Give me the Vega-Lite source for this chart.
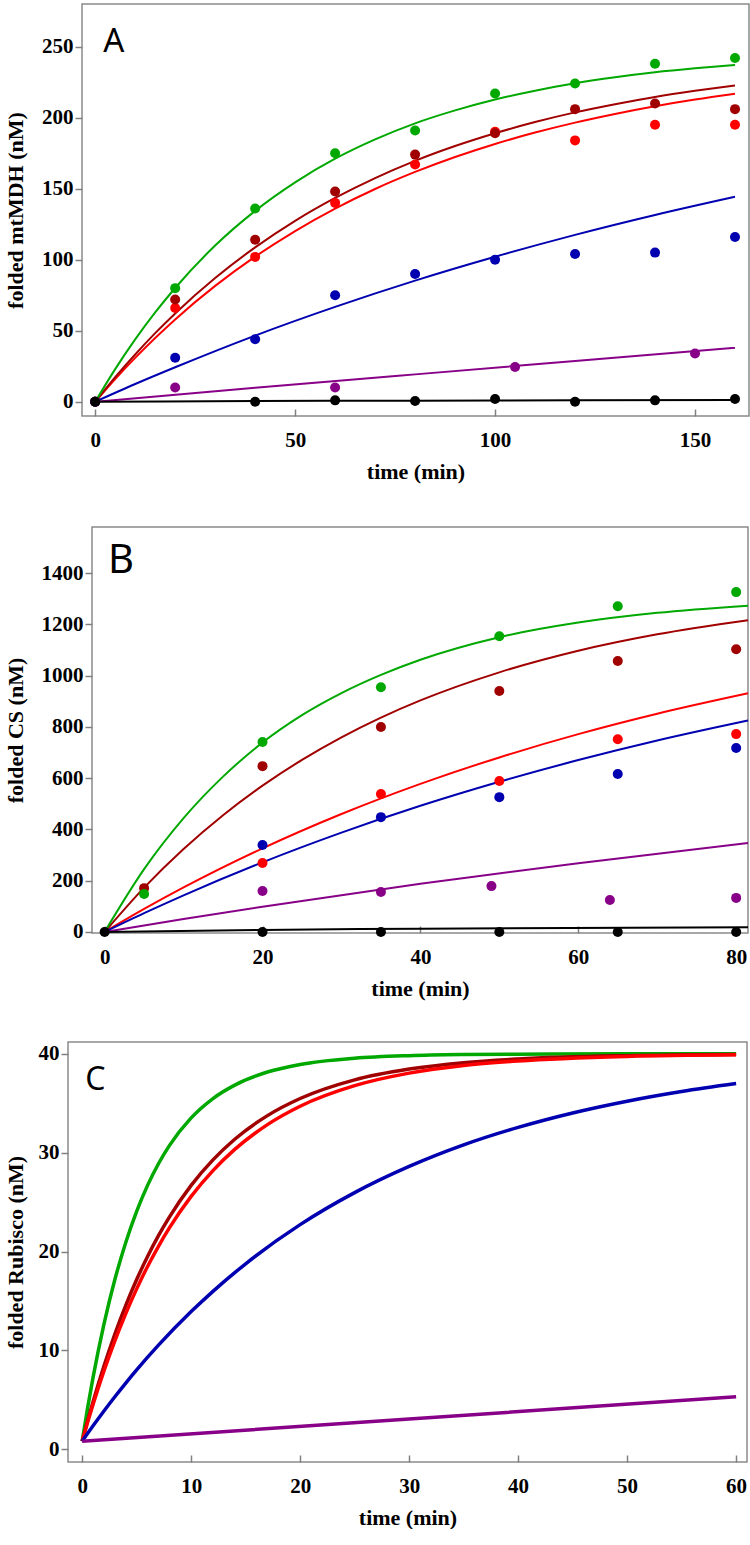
{
  "$schema": "https://vega.github.io/schema/vega-lite/v6.json",
  "background": "white",
  "padding": {"left": 2, "top": 3, "right": 2, "bottom": 0},
  "spacing": 43,
  "config": {
    "view": {"stroke": "#8a8a8a", "strokeWidth": 1.5},
    "axis": {
      "grid": false, "domain": false, "labelFlush": false, "labelOverlap": false,
      "labelFont": "Liberation Serif", "labelFontSize": 21, "labelFontWeight": "bold", "labelColor": "#000000",
      "titleFont": "Liberation Serif", "titleFontSize": 22, "titleFontWeight": "bold", "titleColor": "#000000",
      "tickColor": "#808080", "tickWidth": 1.5
    },
    "axisX": {"tickSize": -7, "labelPadding": 20, "titlePadding": 11},
    "axisY": {"tickSize": 7, "labelPadding": 2, "titlePadding": 14}
  },
  "datasets": {
    "none": [],
    "ptsA": [
      {"s":"s3","t":0,"v":0},{"s":"s3","t":20,"v":66},{"s":"s3","t":40,"v":102},{"s":"s3","t":60,"v":140},{"s":"s3","t":80,"v":167},{"s":"s3","t":100,"v":190},{"s":"s3","t":120,"v":184},{"s":"s3","t":140,"v":195},{"s":"s3","t":160,"v":195},
      {"s":"s2","t":0,"v":0},{"s":"s2","t":20,"v":72},{"s":"s2","t":40,"v":114},{"s":"s2","t":60,"v":148},{"s":"s2","t":80,"v":174},{"s":"s2","t":100,"v":189},{"s":"s2","t":120,"v":206},{"s":"s2","t":140,"v":210},{"s":"s2","t":160,"v":206},
      {"s":"s1","t":0,"v":0},{"s":"s1","t":20,"v":80},{"s":"s1","t":40,"v":136},{"s":"s1","t":60,"v":175},{"s":"s1","t":80,"v":191},{"s":"s1","t":100,"v":217},{"s":"s1","t":120,"v":224},{"s":"s1","t":140,"v":238},{"s":"s1","t":160,"v":242},
      {"s":"s4","t":0,"v":0},{"s":"s4","t":20,"v":31},{"s":"s4","t":40,"v":44},{"s":"s4","t":60,"v":75},{"s":"s4","t":80,"v":90},{"s":"s4","t":100,"v":100},{"s":"s4","t":120,"v":104},{"s":"s4","t":140,"v":105},{"s":"s4","t":160,"v":116},
      {"s":"s5","t":0,"v":0},{"s":"s5","t":20,"v":10},{"s":"s5","t":60,"v":10},{"s":"s5","t":105,"v":24.5},{"s":"s5","t":150,"v":34},
      {"s":"s6","t":0,"v":0},{"s":"s6","t":40,"v":0},{"s":"s6","t":60,"v":1},{"s":"s6","t":80,"v":0.5},{"s":"s6","t":100,"v":2},{"s":"s6","t":120,"v":0},{"s":"s6","t":140,"v":1},{"s":"s6","t":160,"v":2}
    ],
    "fitA": [
      {"s":"s3","t":0,"v":0},{"s":"s3","t":5,"v":16},{"s":"s3","t":10,"v":30.9},{"s":"s3","t":15,"v":44.9},{"s":"s3","t":20,"v":58},{"s":"s3","t":30,"v":81.6},{"s":"s3","t":40,"v":102.2},{"s":"s3","t":50,"v":120.2},{"s":"s3","t":60,"v":136},{"s":"s3","t":70,"v":149.8},{"s":"s3","t":80,"v":161.8},{"s":"s3","t":90,"v":172.3},{"s":"s3","t":100,"v":181.5},{"s":"s3","t":110,"v":189.5},{"s":"s3","t":120,"v":196.5},{"s":"s3","t":130,"v":202.6},{"s":"s3","t":140,"v":208},{"s":"s3","t":150,"v":212.7},{"s":"s3","t":160,"v":216.8},
      {"s":"s2","t":0,"v":0},{"s":"s2","t":5,"v":17.3},{"s":"s2","t":10,"v":33.3},{"s":"s2","t":15,"v":48.3},{"s":"s2","t":20,"v":62.2},{"s":"s2","t":30,"v":87.1},{"s":"s2","t":40,"v":108.7},{"s":"s2","t":50,"v":127.4},{"s":"s2","t":60,"v":143.5},{"s":"s2","t":70,"v":157.5},{"s":"s2","t":80,"v":169.6},{"s":"s2","t":90,"v":180},{"s":"s2","t":100,"v":189},{"s":"s2","t":110,"v":196.9},{"s":"s2","t":120,"v":203.7},{"s":"s2","t":130,"v":209.5},{"s":"s2","t":140,"v":214.6},{"s":"s2","t":150,"v":218.9},{"s":"s2","t":160,"v":222.7},
      {"s":"s1","t":0,"v":0},{"s":"s1","t":5,"v":23},{"s":"s1","t":10,"v":43.9},{"s":"s1","t":15,"v":62.9},{"s":"s1","t":20,"v":80.1},{"s":"s1","t":30,"v":110},{"s":"s1","t":40,"v":134.4},{"s":"s1","t":50,"v":154.5},{"s":"s1","t":60,"v":171.1},{"s":"s1","t":70,"v":184.7},{"s":"s1","t":80,"v":196},{"s":"s1","t":90,"v":205.1},{"s":"s1","t":100,"v":212.8},{"s":"s1","t":110,"v":219},{"s":"s1","t":120,"v":224.2},{"s":"s1","t":130,"v":228.4},{"s":"s1","t":140,"v":231.9},{"s":"s1","t":150,"v":234.7},{"s":"s1","t":160,"v":237.1},
      {"s":"s4","t":0,"v":0},{"s":"s4","t":10,"v":12.5},{"s":"s4","t":20,"v":24.3},{"s":"s4","t":40,"v":46.6},{"s":"s4","t":60,"v":66.8},{"s":"s4","t":80,"v":85.3},{"s":"s4","t":100,"v":102.1},{"s":"s4","t":120,"v":117.5},{"s":"s4","t":140,"v":131.5},{"s":"s4","t":160,"v":144.3},
      {"s":"s5","t":0,"v":0},{"s":"s5","t":40,"v":9.8},{"s":"s5","t":80,"v":19.3},{"s":"s5","t":120,"v":28.7},{"s":"s5","t":160,"v":38},
      {"s":"s6","t":0,"v":0},{"s":"s6","t":40,"v":0.5},{"s":"s6","t":80,"v":0.8},{"s":"s6","t":120,"v":1},{"s":"s6","t":160,"v":1.2}
    ],
    "ptsB": [
      {"s":"s3","t":20,"v":269},{"s":"s3","t":35,"v":538},{"s":"s3","t":50,"v":589},{"s":"s3","t":65,"v":752},{"s":"s3","t":80,"v":772},
      {"s":"s2","t":5,"v":171},{"s":"s2","t":20,"v":647},{"s":"s2","t":35,"v":800},{"s":"s2","t":50,"v":940},{"s":"s2","t":65,"v":1057},{"s":"s2","t":80,"v":1103},
      {"s":"s1","t":5,"v":148},{"s":"s1","t":20,"v":741},{"s":"s1","t":35,"v":955},{"s":"s1","t":50,"v":1154},{"s":"s1","t":65,"v":1271},{"s":"s1","t":80,"v":1326},
      {"s":"s4","t":20,"v":339},{"s":"s4","t":35,"v":448},{"s":"s4","t":50,"v":526},{"s":"s4","t":65,"v":616},{"s":"s4","t":80,"v":718},
      {"s":"s5","t":20,"v":160},{"s":"s5","t":35,"v":156},{"s":"s5","t":49,"v":179},{"s":"s5","t":64,"v":125},{"s":"s5","t":80,"v":133},
      {"s":"s6","t":0,"v":0},{"s":"s6","t":20,"v":0},{"s":"s6","t":35,"v":0},{"s":"s6","t":50,"v":0},{"s":"s6","t":65,"v":0},{"s":"s6","t":80,"v":0}
    ],
    "fitB": [
      {"s":"s3","t":0,"v":0},{"s":"s3","t":5,"v":89.7},{"s":"s3","t":10,"v":173.7},{"s":"s3","t":20,"v":326.2},{"s":"s3","t":30,"v":460.3},{"s":"s3","t":40,"v":577.8},{"s":"s3","t":50,"v":681},{"s":"s3","t":60,"v":771.8},{"s":"s3","t":70,"v":851.4},{"s":"s3","t":81.5,"v":931},
      {"s":"s2","t":0,"v":0},{"s":"s2","t":5,"v":173},{"s":"s2","t":10,"v":323.7},{"s":"s2","t":15,"v":455.6},{"s":"s2","t":20,"v":570.9},{"s":"s2","t":25,"v":671.4},{"s":"s2","t":30,"v":759.4},{"s":"s2","t":35,"v":836.3},{"s":"s2","t":40,"v":903.4},{"s":"s2","t":50,"v":1013},{"s":"s2","t":60,"v":1097.3},{"s":"s2","t":70,"v":1161.5},{"s":"s2","t":81.5,"v":1216.5},
      {"s":"s1","t":0,"v":0},{"s":"s1","t":5,"v":245},{"s":"s1","t":10,"v":444},{"s":"s1","t":15,"v":606},{"s":"s1","t":20,"v":739},{"s":"s1","t":25,"v":846},{"s":"s1","t":30,"v":932},{"s":"s1","t":35,"v":1003},{"s":"s1","t":40,"v":1062},{"s":"s1","t":50,"v":1150},{"s":"s1","t":60,"v":1207},{"s":"s1","t":70,"v":1245},{"s":"s1","t":81.5,"v":1273},
      {"s":"s4","t":0,"v":0},{"s":"s4","t":5,"v":73.4},{"s":"s4","t":10,"v":143},{"s":"s4","t":20,"v":271.8},{"s":"s4","t":30,"v":387.7},{"s":"s4","t":40,"v":492.2},{"s":"s4","t":50,"v":586},{"s":"s4","t":60,"v":670.7},{"s":"s4","t":70,"v":747},{"s":"s4","t":81.5,"v":825},
      {"s":"s5","t":0,"v":0},{"s":"s5","t":10,"v":50.5},{"s":"s5","t":20,"v":98.6},{"s":"s5","t":40,"v":187.8},{"s":"s5","t":60,"v":268.5},{"s":"s5","t":81.5,"v":346.7},
      {"s":"s6","t":0,"v":0},{"s":"s6","t":20,"v":8},{"s":"s6","t":40,"v":13},{"s":"s6","t":81.5,"v":18}
    ],
    "fitC": [
      {"s":"s1","t":0,"v":0.8},{"s":"s1","t":0.5,"v":4.18},{"s":"s1","t":1,"v":7.26},{"s":"s1","t":2,"v":12.65},{"s":"s1","t":3,"v":17.16},{"s":"s1","t":4,"v":20.92},{"s":"s1","t":5,"v":24.06},{"s":"s1","t":6,"v":26.69},{"s":"s1","t":7,"v":28.88},{"s":"s1","t":8,"v":30.71},{"s":"s1","t":10,"v":33.52},{"s":"s1","t":12,"v":35.48},{"s":"s1","t":14,"v":36.84},{"s":"s1","t":17,"v":38.16},{"s":"s1","t":20,"v":38.93},{"s":"s1","t":25,"v":39.56},{"s":"s1","t":30,"v":39.82},{"s":"s1","t":35,"v":39.93},{"s":"s1","t":40,"v":39.97},{"s":"s1","t":50,"v":40},{"s":"s1","t":60,"v":40},
      {"s":"s2","t":0,"v":0.8},{"s":"s2","t":0.5,"v":2.86},{"s":"s2","t":1,"v":4.81},{"s":"s2","t":2,"v":8.41},{"s":"s2","t":3,"v":11.65},{"s":"s2","t":4,"v":14.55},{"s":"s2","t":5,"v":17.16},{"s":"s2","t":6,"v":19.49},{"s":"s2","t":7,"v":21.6},{"s":"s2","t":8,"v":23.48},{"s":"s2","t":10,"v":26.69},{"s":"s2","t":12,"v":29.27},{"s":"s2","t":14,"v":31.36},{"s":"s2","t":17,"v":33.75},{"s":"s2","t":20,"v":35.48},{"s":"s2","t":25,"v":37.37},{"s":"s2","t":30,"v":38.46},{"s":"s2","t":35,"v":39.11},{"s":"s2","t":40,"v":39.48},{"s":"s2","t":50,"v":39.82},{"s":"s2","t":60,"v":39.94},
      {"s":"s3","t":0,"v":0.8},{"s":"s3","t":0.5,"v":2.71},{"s":"s3","t":1,"v":4.53},{"s":"s3","t":2,"v":7.91},{"s":"s3","t":3,"v":10.96},{"s":"s3","t":4,"v":13.72},{"s":"s3","t":5,"v":16.22},{"s":"s3","t":6,"v":18.49},{"s":"s3","t":7,"v":20.53},{"s":"s3","t":8,"v":22.39},{"s":"s3","t":10,"v":25.58},{"s":"s3","t":12,"v":28.19},{"s":"s3","t":14,"v":30.33},{"s":"s3","t":17,"v":32.84},{"s":"s3","t":20,"v":34.7},{"s":"s3","t":25,"v":36.78},{"s":"s3","t":30,"v":38.05},{"s":"s3","t":35,"v":38.82},{"s":"s3","t":40,"v":39.28},{"s":"s3","t":50,"v":39.74},{"s":"s3","t":60,"v":39.9},
      {"s":"s4","t":0,"v":0.8},{"s":"s4","t":1,"v":2.36},{"s":"s4","t":2,"v":3.86},{"s":"s4","t":3,"v":5.3},{"s":"s4","t":4,"v":6.69},{"s":"s4","t":5,"v":8.02},{"s":"s4","t":7,"v":10.52},{"s":"s4","t":10,"v":13.92},{"s":"s4","t":12,"v":15.97},{"s":"s4","t":15,"v":18.76},{"s":"s4","t":20,"v":22.72},{"s":"s4","t":25,"v":25.96},{"s":"s4","t":30,"v":28.61},{"s":"s4","t":35,"v":30.79},{"s":"s4","t":40,"v":32.56},{"s":"s4","t":45,"v":34.02},{"s":"s4","t":50,"v":35.21},{"s":"s4","t":55,"v":36.19},{"s":"s4","t":60,"v":36.99},
      {"s":"s5","t":0,"v":0.8},{"s":"s5","t":30,"v":3.05},{"s":"s5","t":60,"v":5.3}
    ]
  },
  "vconcat": [
    {
      "spacing": 0,
      "hconcat": [
        {"width": 1, "height": 1, "view": {"stroke": null}, "data": {"name": "none"}, "mark": "point", "encoding": {}},
        {
          "width": 667, "height": 412,
          "layer": [
            {
              "data": {"name": "fitA"},
              "mark": {"type": "line", "strokeWidth": 2, "interpolate": "monotone"},
              "encoding": {
                "x": {"field": "t", "type": "quantitative", "scale": {"domain": [-3.3, 163.5], "nice": false, "zero": false}, "axis": {"title": "time (min)", "values": [0, 50, 100, 150]}},
                "y": {"field": "v", "type": "quantitative", "scale": {"domain": [-10, 280], "nice": false, "zero": false}, "axis": {"title": "folded mtMDH (nM)", "values": [0, 50, 100, 150, 200, 250]}},
                "color": {"field": "s", "type": "nominal", "scale": {"domain": ["s1","s2","s3","s4","s5","s6"], "range": ["#00a800","#a00000","#ff0000","#0000b0","#880088","#000000"]}, "legend": null}
              }
            },
            {
              "data": {"name": "ptsA"},
              "mark": {"type": "circle", "size": 100, "opacity": 1},
              "encoding": {
                "x": {"field": "t", "type": "quantitative", "scale": {"domain": [-3.3, 163.5], "nice": false, "zero": false}},
                "y": {"field": "v", "type": "quantitative", "scale": {"domain": [-10, 280], "nice": false, "zero": false}},
                "color": {"field": "s", "type": "nominal", "legend": null}
              }
            },
            {
              "data": {"values": [{"label": "A", "t": 2, "v": 253}]},
              "mark": {"type": "text", "font": "Noto Sans", "fontSize": 33, "align": "left", "baseline": "middle", "color": "#000000"},
              "encoding": {
                "x": {"field": "t", "type": "quantitative"},
                "y": {"field": "v", "type": "quantitative"},
                "text": {"field": "label"}
              }
            }
          ]
        }
      ]
    },
    {
      "spacing": 41,
      "vconcat": [
        {
          "spacing": 0,
          "hconcat": [
            {"width": 1, "height": 1, "view": {"stroke": null}, "data": {"name": "none"}, "mark": "point", "encoding": {}},
            {
              "width": 656, "height": 406,
              "layer": [
                {
                  "data": {"name": "fitB"},
                  "mark": {"type": "line", "strokeWidth": 2, "interpolate": "monotone"},
                  "encoding": {
                    "x": {"field": "t", "type": "quantitative", "scale": {"domain": [-1.6, 81.5], "nice": false, "zero": false}, "axis": {"title": "time (min)", "values": [0, 20, 40, 60, 80]}},
                    "y": {"field": "v", "type": "quantitative", "scale": {"domain": [-4, 1580], "nice": false, "zero": false}, "axis": {"title": "folded CS (nM)", "format": "d", "values": [0, 200, 400, 600, 800, 1000, 1200, 1400]}},
                    "color": {"field": "s", "type": "nominal", "scale": {"domain": ["s1","s2","s3","s4","s5","s6"], "range": ["#00a800","#a00000","#ff0000","#0000b0","#880088","#000000"]}, "legend": null}
                  }
                },
                {
                  "data": {"name": "ptsB"},
                  "mark": {"type": "circle", "size": 100, "opacity": 1},
                  "encoding": {
                    "x": {"field": "t", "type": "quantitative", "scale": {"domain": [-1.6, 81.5], "nice": false, "zero": false}},
                    "y": {"field": "v", "type": "quantitative", "scale": {"domain": [-4, 1580], "nice": false, "zero": false}},
                    "color": {"field": "s", "type": "nominal", "legend": null}
                  }
                },
                {
                  "data": {"values": [{"label": "B", "t": 0.43, "v": 1446}]},
                  "mark": {"type": "text", "font": "Noto Sans", "fontSize": 40, "align": "left", "baseline": "middle", "color": "#000000"},
                  "encoding": {
                    "x": {"field": "t", "type": "quantitative"},
                    "y": {"field": "v", "type": "quantitative"},
                    "text": {"field": "label"}
                  }
                }
              ]
            }
          ]
        },
        {
          "spacing": 0,
          "hconcat": [
            {"width": 1, "height": 1, "view": {"stroke": null}, "data": {"name": "none"}, "mark": "point", "encoding": {}},
            {
              "width": 679, "height": 420,
              "layer": [
                {
                  "data": {"name": "fitC"},
                  "mark": {"type": "line", "strokeWidth": 3.5, "interpolate": "monotone"},
                  "encoding": {
                    "x": {"field": "t", "type": "quantitative", "scale": {"domain": [-1.3, 61], "nice": false, "zero": false}, "axis": {"title": "time (min)", "values": [0, 10, 20, 30, 40, 50, 60]}},
                    "y": {"field": "v", "type": "quantitative", "scale": {"domain": [-1.3, 41.2], "nice": false, "zero": false}, "axis": {"title": "folded Rubisco (nM)", "titlePadding": 11, "values": [0, 10, 20, 30, 40]}},
                    "color": {"field": "s", "type": "nominal", "scale": {"domain": ["s1","s2","s3","s4","s5","s6"], "range": ["#00a800","#a00000","#ff0000","#0000b0","#880088","#000000"]}, "legend": null}
                  }
                },
                {
                  "data": {"values": [{"label": "C", "t": 0.28, "v": 37.4}]},
                  "mark": {"type": "text", "font": "Noto Sans", "fontSize": 32, "align": "left", "baseline": "middle", "color": "#000000"},
                  "encoding": {
                    "x": {"field": "t", "type": "quantitative", "scale": {"domain": [-1.3, 61], "nice": false, "zero": false}},
                    "y": {"field": "v", "type": "quantitative", "scale": {"domain": [-1.3, 41.2], "nice": false, "zero": false}},
                    "text": {"field": "label"}
                  }
                }
              ]
            }
          ]
        }
      ]
    }
  ]
}
